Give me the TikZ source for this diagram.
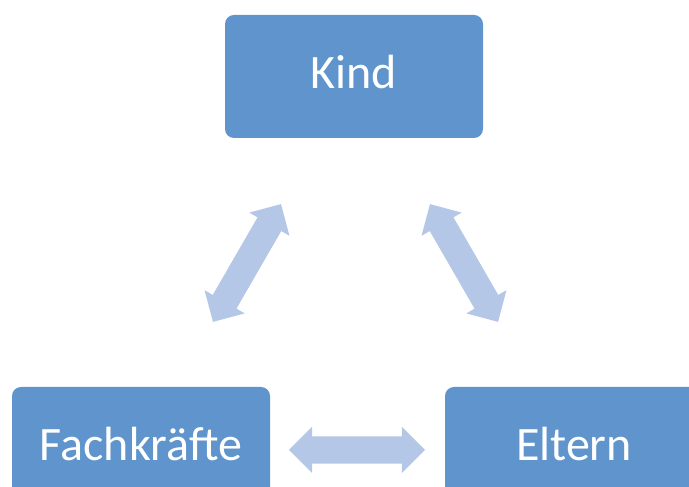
\documentclass[tikz,border=0pt]{standalone}
\usepackage{fontspec}
\setmainfont{Carlito}
\usepackage{tikz}
\usetikzlibrary{%
  shapes.arrows,%
  positioning%
}
\definecolor{boxblue}{RGB}{95,148,204}
\definecolor{arrowblue}{RGB}{180,199,231}

\begin{document}
\begin{tikzpicture}[x=1pt,y=1pt,
	box/.style={fill=boxblue,rounded corners=9pt,minimum width=258pt,minimum height=123pt,
		inner sep=0pt,text=white,font=\fontsize{48}{57}\selectfont,
		text height=30.9pt,text depth=7pt},
	twoway/.style={double arrow,fill=arrowblue,inner xsep=0pt,inner ysep=13.5pt,
		minimum height=136pt,double arrow head extend=9.5pt}]
	\clip (0,0) rectangle (689,487);
	%Nodes
	\node[box] (K) at (354,410.5) {Kind};
	\node[box] (F) at (141,38.5) {Fachkräfte};
	\node[box] (E) at (574,38.5) {Eltern};
	%Arrows
	\node[twoway,rotate=60] (KF) at (247,224) {};
	\node[twoway,rotate=-60] (KE) at (464,224) {};
	\node[twoway] (FE) at (357,37) {};
\end{tikzpicture}
\end{document}
